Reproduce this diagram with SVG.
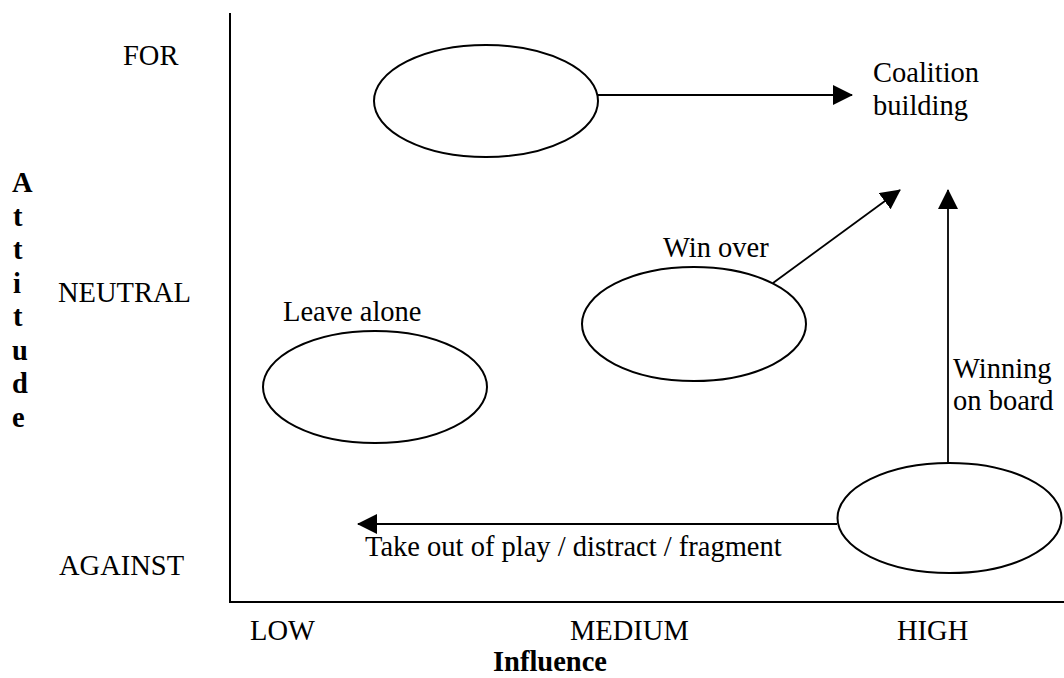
<svg xmlns="http://www.w3.org/2000/svg" width="1064" height="678" viewBox="0 0 1064 678" font-family="'Liberation Serif', 'DejaVu Serif', serif">
<style>
  text { font-size: 28.5px; fill: #000; }
  .b { font-weight: bold; }
  .node ellipse { fill: #fff; stroke: #000; stroke-width: 2; }
  .axis { stroke: #000; stroke-width: 2; fill: none; }
  .conn line { stroke: #000; stroke-width: 1.8; }
</style>
<defs>
  <marker id="ah" markerUnits="userSpaceOnUse" markerWidth="20" markerHeight="20" refX="19" refY="10" orient="auto">
    <path d="M0,0 L20,10 L0,20 z" fill="#000"/>
  </marker>
</defs>
<rect width="1064" height="678" fill="#fff"/>

<g id="axes">
  <line class="axis" x1="230" y1="13" x2="230" y2="603"/>
  <line class="axis" x1="229" y1="602" x2="1064" y2="602"/>
</g>

<g id="axis-labels">
  <text x="123" y="65">FOR</text>
  <text x="58" y="302">NEUTRAL</text>
  <text x="59" y="575">AGAINST</text>
  <text x="250" y="640">LOW</text>
  <text x="570" y="640">MEDIUM</text>
  <text x="897" y="640">HIGH</text>
  <text class="b" x="493" y="671">Influence</text>
  <g>
    <text class="b" x="12" y="192">A</text>
    <text class="b" x="13" y="225.5">t</text>
    <text class="b" x="13" y="259">t</text>
    <text class="b" x="13" y="292.5">i</text>
    <text class="b" x="13" y="326">t</text>
    <text class="b" x="12" y="359.5">u</text>
    <text class="b" x="12" y="393">d</text>
    <text class="b" x="12" y="426.5">e</text>
  </g>
</g>

<g id="connectors" class="conn">
  <line x1="598" y1="95" x2="852" y2="95" marker-end="url(#ah)"/>
  <line x1="773" y1="283" x2="900" y2="190" marker-end="url(#ah)"/>
  <line x1="948" y1="463" x2="948" y2="190" marker-end="url(#ah)"/>
  <line x1="837" y1="524" x2="358" y2="524" marker-end="url(#ah)"/>
</g>

<g id="node-for" class="node">
  <ellipse cx="486" cy="101" rx="112" ry="56"/>
</g>
<g id="node-leave-alone" class="node">
  <ellipse cx="375" cy="387" rx="112" ry="56"/>
  <text x="283" y="321">Leave alone</text>
</g>
<g id="node-win-over" class="node">
  <ellipse cx="694" cy="324" rx="112" ry="57"/>
  <text x="663" y="257">Win over</text>
</g>
<g id="node-against-high" class="node">
  <ellipse cx="949.5" cy="518" rx="112" ry="55"/>
</g>

<g id="labels">
  <text x="873" y="82">Coalition</text>
  <text x="873" y="115">building</text>
  <text x="953" y="378">Winning</text>
  <text x="953" y="410">on board</text>
  <text x="365" y="556">Take out of play / distract / fragment</text>
</g>
</svg>
